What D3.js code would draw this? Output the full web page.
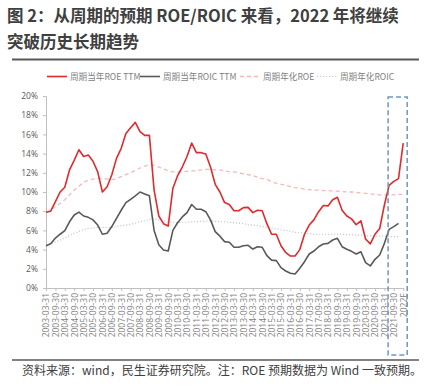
<!DOCTYPE html>
<html><head><meta charset="utf-8">
<script src="https://cdn.jsdelivr.net/npm/d3@7"></script>
<style>
html,body{margin:0;padding:0;background:#fff;}
svg{display:block;font-family:"Noto Sans CJK SC","Noto Sans",sans-serif;}
</style></head>
<body>
<svg id="chart" width="428" height="391"></svg>
<script>
const categories = [
"2003-03-31","2003-06-30","2003-09-30","2003-12-31",
"2004-03-31","2004-06-30","2004-09-30","2004-12-31",
"2005-03-31","2005-06-30","2005-09-30","2005-12-31",
"2006-03-31","2006-06-30","2006-09-30","2006-12-31",
"2007-03-31","2007-06-30","2007-09-30","2007-12-31",
"2008-03-31","2008-06-30","2008-09-30","2008-12-31",
"2009-03-31","2009-06-30","2009-09-30","2009-12-31",
"2010-03-31","2010-06-30","2010-09-30","2010-12-31",
"2011-03-31","2011-06-30","2011-09-30","2011-12-31",
"2012-03-31","2012-06-30","2012-09-30","2012-12-31",
"2013-03-31","2013-06-30","2013-09-30","2013-12-31",
"2014-03-31","2014-06-30","2014-09-30","2014-12-31",
"2015-03-31","2015-06-30","2015-09-30","2015-12-31",
"2016-03-31","2016-06-30","2016-09-30","2016-12-31",
"2017-03-31","2017-06-30","2017-09-30","2017-12-31",
"2018-03-31","2018-06-30","2018-09-30","2018-12-31",
"2019-03-31","2019-06-30","2019-09-30","2019-12-31",
"2020-03-31","2020-06-30","2020-09-30","2020-12-31",
"2021-03-31","2021-06-30","2021-09-30","2021-12-31",
"2022E"];

// 周期当年ROE TTM (%)
const roeTTM = [
7.9,8.0,9.0,10.0,10.5,12.3,13.3,14.4,13.7,13.85,13.2,12.1,10.0,10.55,11.8,13.5,
14.55,16.1,16.7,17.25,16.3,15.9,15.9,10.2,7.5,6.7,6.45,10.4,11.7,12.6,13.7,15.1,
14.1,14.1,13.95,12.6,10.8,10.0,8.9,8.7,8.05,8.05,8.37,8.4,7.85,8.1,8.05,6.7,
5.6,5.6,4.4,3.7,3.33,3.33,4.0,5.6,6.56,7.1,7.95,8.6,8.55,9.2,9.45,8.1,
7.5,7.2,6.6,7.0,5.1,4.6,5.6,6.2,8.65,10.7,11.1,11.4,15.1];

// 周期当年ROIC TTM (%)
const roicTTM = [
4.4,4.6,5.2,5.6,5.97,6.9,7.6,7.9,7.5,7.36,7.1,6.56,5.6,5.7,6.4,7.26,
8.1,8.9,9.24,9.6,10.0,9.8,9.6,6.0,4.5,3.96,3.85,6.0,6.8,7.4,7.85,8.7,
8.2,8.2,7.95,7.1,5.87,5.4,4.83,4.76,4.24,4.24,4.4,4.45,4.06,4.3,4.24,3.37,
2.9,2.85,2.12,1.77,1.53,1.46,2.05,2.74,3.54,3.85,4.3,4.58,4.65,5.0,5.17,4.3,
4.03,3.82,3.54,3.78,2.64,2.3,2.99,3.44,4.65,6.1,6.4,6.74];

// 周期年化ROE (%)
const roeAnnual = [
7.9,8.1,8.5,8.8,9.2,9.7,10.2,10.6,11.0,11.25,11.35,11.4,11.4,11.35,11.3,11.4,
11.6,11.8,12.0,12.25,12.5,12.7,12.8,12.8,12.6,12.4,12.2,12.1,12.05,12.1,12.15,12.2,
12.2,12.3,12.35,12.35,12.3,12.3,12.2,12.1,12.1,12.0,11.9,11.8,11.7,11.55,11.4,11.3,
11.1,10.9,10.8,10.7,10.55,10.45,10.4,10.3,10.25,10.2,10.2,10.15,10.15,10.1,10.1,10.05,
10.0,10.0,9.95,9.9,9.85,9.8,9.75,9.7,9.7,9.7,9.7,9.75,9.75];

// 周期年化ROIC (%)
const roicAnnual = [
4.4,4.6,4.8,5.0,5.2,5.45,5.7,5.9,6.1,6.2,6.25,6.3,6.3,6.3,6.3,6.4,
6.5,6.55,6.65,6.75,6.9,7.0,7.15,7.2,7.1,7.0,6.9,6.85,6.8,6.85,6.85,6.9,
6.9,6.95,6.95,7.0,6.95,6.9,6.9,6.85,6.8,6.75,6.7,6.6,6.55,6.5,6.4,6.3,
6.25,6.15,6.05,6.0,5.9,5.8,5.75,5.7,5.65,5.6,5.6,5.6,5.6,5.6,5.6,5.6,
5.55,5.55,5.5,5.5,5.45,5.45,5.4,5.4,5.4,5.35,5.35,5.35];

const yTicks = [0,2,4,6,8,10,12,14,16,18,20];

const seriesNames = ["周期当年ROE TTM","周期当年ROIC TTM","周期年化ROE","周期年化ROIC"];

const titleLines = ["图 2：从周期的预期 ROE/ROIC 来看，2022 年将继续","突破历史长期趋势"];
const footnote = "资料来源：wind，民生证券研究院。注：ROE 预期数据为 Wind 一致预期。";

const svg = d3.select("#chart");

// Title
svg.append("text").attr("x",7).attr("y",22).text(titleLines[0])
  .attr("font-size",16.5).attr("font-weight","bold").attr("fill","#404040");
svg.append("text").attr("x",7).attr("y",48).text(titleLines[1])
  .attr("font-size",16.5).attr("font-weight","bold").attr("fill","#404040");
svg.append("line").attr("x1",12).attr("x2",419).attr("y1",59.5).attr("y2",59.5)
  .attr("stroke","#595959").attr("stroke-width",2);

// Footer
svg.append("line").attr("x1",12).attr("x2",419).attr("y1",360).attr("y2",360)
  .attr("stroke","#595959").attr("stroke-width",1.5);
svg.append("text").attr("x",22).attr("y",375).text(footnote)
  .attr("font-size",12).attr("fill","#404040");

// Scales
const x = d3.scalePoint().domain(categories).range([46, 403.2]);
const y = d3.scaleLinear().domain([0, 20]).range([288, 96]);

// Axes
const yAxis = d3.axisLeft(y).tickValues(yTicks).tickSize(3).tickPadding(5)
  .tickFormat(d => d + "%");
const gy = svg.append("g").attr("transform","translate(46,0)").call(yAxis);
gy.select(".domain").attr("stroke","#BFBFBF");
gy.selectAll(".tick line").attr("stroke","#BFBFBF");
gy.selectAll(".tick text").attr("font-size",8.5).attr("fill","#595959")
  .attr("font-family","'Open Sans','Noto Sans',sans-serif");

const labelCats = categories.filter((d,i) => i % 2 === 0);
const xAxis = d3.axisBottom(x).tickValues(labelCats).tickSize(3).tickSizeOuter(0);
const gx = svg.append("g").attr("transform","translate(0,288)").call(xAxis);
gx.select(".domain").attr("stroke","#BFBFBF");
gx.selectAll(".tick line").attr("stroke","#BFBFBF");
gx.selectAll(".tick text")
  .attr("font-size",8.5).attr("fill","#7F7F7F")
  .attr("font-family","'Open Sans','Noto Sans',sans-serif")
  .attr("transform","rotate(-90)")
  .attr("text-anchor","end")
  .attr("x",-5).attr("y",0).attr("dy","0.35em");

// Lines
const mk = arr => d3.line()
  .x((d,i) => x(categories[i]))
  .y(d => y(d))(arr);

svg.append("path").attr("d", mk(roeAnnual)).attr("fill","none")
  .attr("stroke","#F4B8B8").attr("stroke-width",1.3).attr("stroke-dasharray","4,3");
svg.append("path").attr("d", mk(roicAnnual)).attr("fill","none")
  .attr("stroke","#C8C8C8").attr("stroke-width",1.2).attr("stroke-dasharray","1.2,1.8");
svg.append("path").attr("d", mk(roicTTM)).attr("fill","none")
  .attr("stroke","#595959").attr("stroke-width",1.6).attr("stroke-linejoin","round");
svg.append("path").attr("d", mk(roeTTM)).attr("fill","none")
  .attr("stroke","#E02A2E").attr("stroke-width",1.6).attr("stroke-linejoin","round");

// Highlight box
const bx0 = x(categories[73]) - 1, bx1 = x(categories[76]) + 4;
svg.append("rect").attr("x",bx0).attr("y",97).attr("width",bx1-bx0).attr("height",258)
  .attr("fill","none").attr("stroke","#7096C4").attr("stroke-width",1.5)
  .attr("stroke-dasharray","5,3");

// Legend
const legend = [
  {name: seriesNames[0], x: 47, color:"#E02A2E", dash:null, w:1.6},
  {name: seriesNames[1], x: 140, color:"#595959", dash:null, w:1.6},
  {name: seriesNames[2], x: 240, color:"#F4B8B8", dash:"4,3", w:1.3},
  {name: seriesNames[3], x: 317, color:"#C8C8C8", dash:"1.2,1.8", w:1.2}
];
const lg = svg.append("g");
legend.forEach(l => {
  lg.append("line").attr("x1",l.x).attr("x2",l.x+20).attr("y1",76.5).attr("y2",76.5)
    .attr("stroke",l.color).attr("stroke-width",l.w).attr("stroke-dasharray",l.dash);
  lg.append("text").attr("x",l.x+23).attr("y",79.5).text(l.name)
    .attr("font-size",8.6).attr("fill","#7F7F7F");
});
</script>
</body></html>
